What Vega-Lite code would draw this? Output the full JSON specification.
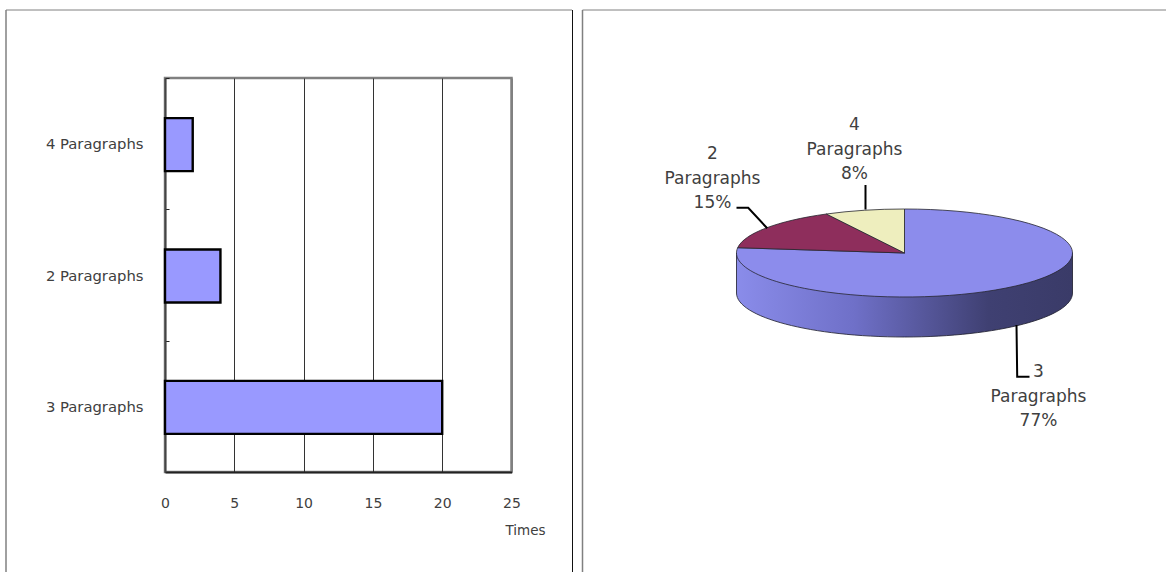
{
  "$schema": "https://vega.github.io/schema/vega-lite/v6.json",
  "padding": {"left": 4, "top": 8, "right": 0, "bottom": 0},
  "background": "white",
  "bounds": "flush",
  "spacing": 130.5,
  "config": {"font": "DejaVu Sans"},
  "datasets": {
    "paragraphs": [
      {"paragraphs": "3 Paragraphs", "times": 20, "pieLabel": "3\nParagraphs\n77%"},
      {"paragraphs": "2 Paragraphs", "times": 4, "pieLabel": "2\nParagraphs\n15%"},
      {"paragraphs": "4 Paragraphs", "times": 2, "pieLabel": "4\nParagraphs\n8%"}
    ],
    "cell": [{"part": "cell"}]
  },
  "hconcat": [
    {
      "width": 346.5,
      "height": 394,
      "view": {"stroke": "#808080", "strokeWidth": 2.5},
      "layer": [
        {
          "data": {"name": "cell"},
          "mark": {"type": "rule", "color": "#808080", "strokeWidth": 1.5, "clip": false},
          "encoding": {"x": {"value": -159}, "y": {"value": -68}, "y2": {"value": 494}}
        },
        {
          "data": {"name": "cell"},
          "mark": {"type": "rule", "color": "#808080", "strokeWidth": 1, "clip": false},
          "encoding": {"x": {"value": -159}, "x2": {"value": 407}, "y": {"value": -68}}
        },
        {
          "data": {"name": "cell"},
          "mark": {"type": "rule", "color": "#111111", "strokeWidth": 1, "clip": false},
          "encoding": {"x": {"value": 407.5}, "y": {"value": -68}, "y2": {"value": 494}}
        },
        {
          "data": {"name": "paragraphs"},
          "mark": {"type": "bar", "size": 53, "yOffset": 1, "fill": "#9999FF", "stroke": "#000000", "strokeWidth": 2.4},
          "encoding": {
            "x": {
              "field": "times",
              "type": "quantitative",
              "scale": {"domain": [0, 25], "nice": false},
              "axis": {
                "values": [0, 5, 10, 15, 20, 25],
                "title": "Times",
                "titleX": 360,
                "titleY": 58,
                "titleAnchor": "middle",
                "titleAlign": "center",
                "titleBaseline": "middle",
                "titleFontSize": 13.5,
                "titleFontWeight": "normal",
                "titleColor": "#404040",
                "labelFontSize": 14,
                "labelColor": "#404040",
                "labelPadding": 24,
                "labelFlush": false,
                "ticks": false,
                "domainColor": "#222222",
                "domainWidth": 2,
                "grid": true,
                "gridColor": {"condition": {"test": "datum.value === 25 || datum.value === 0", "value": "#808080"}, "value": "#333333"},
                "gridWidth": 1
              }
            },
            "y": {
              "field": "paragraphs",
              "type": "nominal",
              "scale": {"domain": ["4 Paragraphs", "2 Paragraphs", "3 Paragraphs"], "paddingInner": 0, "paddingOuter": 0},
              "axis": {
                "title": null,
                "labelFontSize": 14.8,
                "labelColor": "#404040",
                "labelPadding": 26,
                "labelOffset": 1,
                "tickBand": "extent",
                "tickSize": -4,
                "tickColor": "#222222",
                "domainColor": "#444444",
                "domainWidth": 2,
                "grid": false
              }
            }
          }
        }
      ]
    },
    {
      "width": 524,
      "height": 350,
      "view": {"stroke": null},
      "resolve": {"scale": {"shape": "independent", "fill": "independent"}},
      "layer": [
        {
          "data": {"name": "cell"},
          "mark": {"type": "rule", "color": "#808080", "strokeWidth": 1.5, "clip": false},
          "encoding": {"x": {"value": -60}, "y": {"value": -68}, "y2": {"value": 494}}
        },
        {
          "data": {"name": "cell"},
          "mark": {"type": "rule", "color": "#808080", "strokeWidth": 1, "clip": false},
          "encoding": {"x": {"value": -60}, "x2": {"value": 524}, "y": {"value": -68}}
        },
        {
          "data": {"name": "cell"},
          "mark": {
            "type": "point",
            "filled": true,
            "opacity": 1,
            "size": 4,
            "shape": "M-168,0 L-168,40 A168,44 0 0 0 168,40 L168,0 Z",
            "fill": {
              "gradient": "linear",
              "x1": 0,
              "x2": 1,
              "y1": 0,
              "y2": 0,
              "stops": [
                {"offset": 0, "color": "#8A8CEA"},
                {"offset": 0.35, "color": "#6F70C8"},
                {"offset": 0.75, "color": "#3F4072"},
                {"offset": 1, "color": "#3A3B68"}
              ]
            },
            "stroke": "#1a1a2a",
            "strokeWidth": 0.8
          },
          "encoding": {}
        },
        {
          "data": {"name": "paragraphs"},
          "mark": {"type": "point", "filled": true, "opacity": 1, "size": 4, "stroke": "#26262e", "strokeWidth": 0.8},
          "encoding": {
            "shape": {
              "field": "paragraphs",
              "type": "nominal",
              "legend": null,
              "scale": {
                "domain": ["3 Paragraphs", "2 Paragraphs", "4 Paragraphs"],
                "range": [
                  "M0,0 L0,-44 A168,44 0 1 1 -166.8,-5.3 Z",
                  "M0,0 L-166.8,-5.3 A168,44 0 0 1 -78.1,-39 Z",
                  "M0,0 L-78.1,-39 A168,44 0 0 1 0,-44 Z"
                ]
              }
            },
            "fill": {
              "field": "paragraphs",
              "type": "nominal",
              "legend": null,
              "scale": {
                "domain": ["3 Paragraphs", "2 Paragraphs", "4 Paragraphs"],
                "range": ["#8C8CEC", "#8E2E5C", "#EEEEBE"]
              }
            }
          }
        },
        {
          "data": {"name": "paragraphs"},
          "mark": {"type": "point", "filled": false, "opacity": 1, "size": 4, "stroke": "#000000", "strokeWidth": 2},
          "encoding": {
            "shape": {
              "field": "paragraphs",
              "type": "nominal",
              "legend": null,
              "scale": {
                "domain": ["3 Paragraphs", "2 Paragraphs", "4 Paragraphs"],
                "range": [
                  "M112,72 L112.7,123.7 L125,123.7",
                  "M-168,-45.3 L-156.3,-45.3 L-137.3,-24.7",
                  "M-39,-68 L-39,-43.5"
                ]
              }
            }
          }
        },
        {
          "data": {"name": "paragraphs"},
          "transform": [{"filter": "datum.paragraphs === '3 Paragraphs'"}],
          "mark": {"type": "text", "lineBreak": "\n", "lineHeight": 24.5, "fontSize": 17, "color": "#404040", "dx": 134, "dy": 119},
          "encoding": {"text": {"field": "pieLabel"}}
        },
        {
          "data": {"name": "paragraphs"},
          "transform": [{"filter": "datum.paragraphs === '2 Paragraphs'"}],
          "mark": {"type": "text", "lineBreak": "\n", "lineHeight": 24.5, "fontSize": 17, "color": "#404040", "dx": -192, "dy": -99},
          "encoding": {"text": {"field": "pieLabel"}}
        },
        {
          "data": {"name": "paragraphs"},
          "transform": [{"filter": "datum.paragraphs === '4 Paragraphs'"}],
          "mark": {"type": "text", "lineBreak": "\n", "lineHeight": 24.5, "fontSize": 17, "color": "#404040", "dx": -50, "dy": -128},
          "encoding": {"text": {"field": "pieLabel"}}
        }
      ]
    }
  ]
}
